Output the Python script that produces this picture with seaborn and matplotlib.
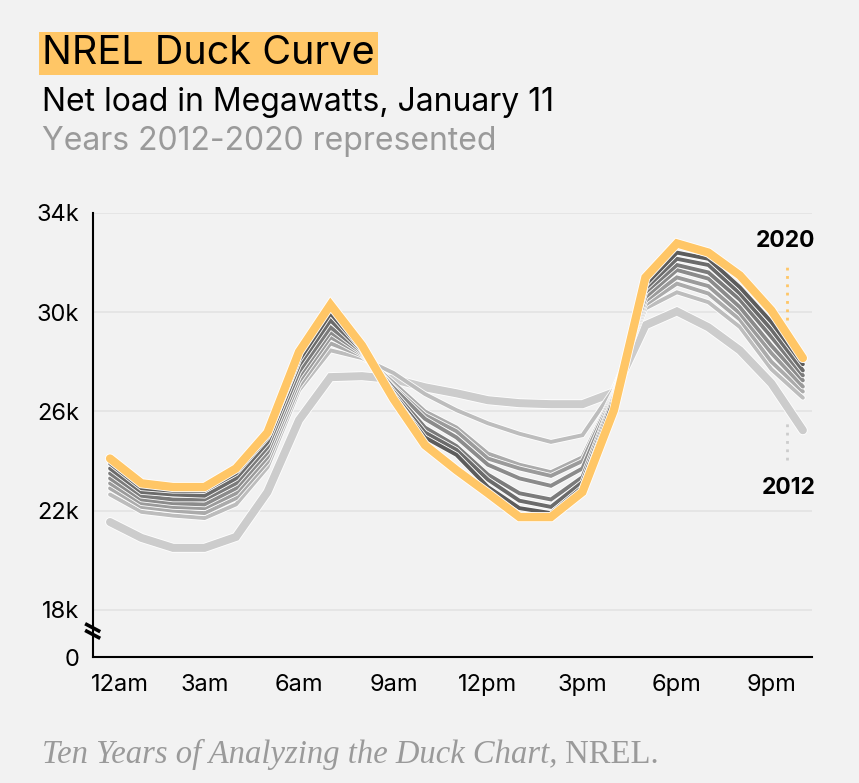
import numpy as np
import matplotlib.pyplot as plt
import matplotlib.patheffects as pe
import matplotlib.transforms as mtransforms
import seaborn as sns
import pandas as pd

# hours of the day (0 = 12am)
hours = list(range(23))
xticks = [0, 3, 6, 9, 12, 15, 18, 21]
xtickslabel = ['12am', '3am', '6am', '9am', '12pm', '3pm', '6pm', '9pm']

# net load, thousands of MW
y2012 = [21.54, 20.9, 20.5, 20.5, 20.94, 22.75, 25.65, 27.38, 27.42, 27.3, 26.97, 26.73,
         26.45, 26.33, 26.29, 26.29, 26.77, 29.47, 30.03, 29.39, 28.46, 27.13, 25.24]
y2013 = [22.65, 21.95, 21.8, 21.7, 22.25, 23.75, 26.85, 28.46, 28.15, 27.55, 26.7, 26.05,
         25.52, 25.1, 24.77, 25.04, 26.9, 30.15, 30.8, 30.4, 29.4, 27.7, 26.55]
y2014 = [22.9, 22.15, 22.0, 21.9, 22.5, 23.95, 27.0, 28.74, 28.25, 27.15, 26.0, 25.35,
         24.3, 23.85, 23.55, 24.15, 26.8, 30.3, 31.15, 30.75, 29.7, 28.0, 26.8]
y2015 = [23.1, 22.3, 22.15, 22.1, 22.7, 24.15, 27.2, 28.99, 28.3, 27.0, 25.85, 25.2,
         24.1, 23.7, 23.4, 24.0, 26.75, 30.45, 31.4, 31.05, 29.95, 28.35, 27.0]
y2016 = [23.3, 22.45, 22.3, 22.25, 22.9, 24.35, 27.4, 29.19, 28.35, 26.95, 25.7, 24.95,
         23.85, 23.3, 23.0, 23.7, 26.7, 30.6, 31.7, 31.35, 30.2, 28.65, 27.25]
y2017 = [23.5, 22.6, 22.45, 22.45, 23.1, 24.55, 27.6, 29.39, 28.4, 26.8, 25.35, 24.6,
         23.45, 22.7, 22.45, 23.35, 26.65, 30.8, 31.9, 31.6, 30.5, 29.0, 27.45]
y2018 = [23.7, 22.75, 22.65, 22.6, 23.3, 24.75, 27.85, 29.67, 28.45, 26.7, 25.15, 24.45,
         23.25, 22.4, 22.15, 23.15, 26.6, 30.95, 32.15, 31.9, 30.75, 29.3, 27.65]
y2019 = [23.9, 22.9, 22.8, 22.8, 23.5, 24.95, 28.05, 29.95, 28.5, 26.6, 24.95, 24.25,
         22.95, 22.1, 21.9, 22.95, 26.5, 31.1, 32.4, 32.15, 31.0, 29.6, 27.9]
y2020 = [24.1, 23.1, 22.95, 22.95, 23.7, 25.15, 28.4, 30.3, 28.66, 26.5, 24.64, 23.63,
         22.7, 21.74, 21.74, 22.75, 26.05, 31.4, 32.77, 32.4, 31.48, 30.07, 28.15]

years = [2012, 2013, 2014, 2015, 2016, 2017, 2018, 2019, 2020]
series = [y2012, y2013, y2014, y2015, y2016, y2017, y2018, y2019, y2020]
colors = ['#cccccc', '#bdbdbd', '#ababab', '#9b9b9b', '#8b8b8b', '#7b7b7b', '#6b6b6b', '#5c5c5c', '#ffc666']
widths = [5.8, 2.8, 2.8, 2.8, 2.8, 2.8, 2.8, 2.8, 6.0]

bg = '#f2f2f2'
sns.set_style('white')
plt.rcParams['font.family'] = ['Inter', 'DejaVu Sans']

fig = plt.figure(figsize=(8.59, 7.83), dpi=100, facecolor=bg)
ax = fig.add_axes([0.1083, 0.1609, 0.8370, 0.5672])
ax.set_facecolor(bg)

ybottom = 16.1
for yy in [18, 22, 26, 30, 34]:
    ax.axhline(yy, color='#e3e3e3', lw=1.2, zorder=0)

for i in range(len(years)):
    df = pd.DataFrame({'hour': hours, 'load': series[i]})
    sns.lineplot(data=df, x='hour', y='load', color=colors[i], linewidth=widths[i],
                 ax=ax, zorder=2 + i, solid_joinstyle='miter',
                 path_effects=[pe.Stroke(linewidth=widths[i] + 1.2, foreground='white'), pe.Normal()])

ax.set_xlim(-0.54, 22.29)
ax.set_ylim(ybottom, 34)
ax.set_xticks(xticks)
ax.set_xticklabels(xtickslabel)
ax.set_yticks([ybottom, 18, 22, 26, 30, 34])
ax.set_yticklabels(['0', '18k', '22k', '26k', '30k', '34k'])
ax.tick_params(length=0, labelsize=17, colors='black')
ax.tick_params(axis='x', pad=12)
ax.tick_params(axis='y', pad=10)
# nudge the first x label off the axis corner
lab0 = ax.get_xticklabels()[0]
lab0.set_transform(lab0.get_transform() + mtransforms.ScaledTranslation(0.1, 0, fig.dpi_scale_trans))
ax.set_xlabel('')
ax.set_ylabel('')
for s in ['top', 'right']:
    ax.spines[s].set_visible(False)
for s in ['left', 'bottom']:
    ax.spines[s].set_color('black')
    ax.spines[s].set_linewidth(1.5)

# axis break marks
ax.plot([-0.011, 0.010], [0.075, 0.057], color='black', lw=2.6, clip_on=False, zorder=10,
        transform=ax.transAxes, solid_capstyle='butt')
ax.plot([-0.011, 0.010], [0.060, 0.042], color='black', lw=2.6, clip_on=False, zorder=10,
        transform=ax.transAxes, solid_capstyle='butt')

# end labels
ax.plot([21.5, 21.5], [29.7, 31.9], color='#ffc666', lw=2, ls=(0, (1, 2)), zorder=1)
ax.plot([21.5, 21.5], [24.05, 25.65], color='#cccccc', lw=2, ls=(0, (1, 2)), zorder=1)
ax.text(21.45, 32.85, '2020', ha='center', va='center', fontsize=16.5, fontweight='bold', color='black')
ax.text(21.55, 22.9, '2012', ha='center', va='center', fontsize=16.5, fontweight='bold', color='black')

# titles
fig.text(0.049, 0.932, 'NREL Duck Curve', fontsize=28.5, va='center', ha='left', color='black',
         bbox=dict(boxstyle='square,pad=0.08', facecolor='#ffc666', edgecolor='none'))
fig.text(0.049, 0.869, 'Net load in Megawatts, January 11', fontsize=23, va='center', ha='left', color='black')
fig.text(0.049, 0.819, 'Years 2012-2020 represented', fontsize=23, va='center', ha='left', color='#9a9a9a')

t1 = fig.text(0.049, 0.036, 'Ten Years of Analyzing the Duck Chart,', fontsize=23.5, va='center', ha='left',
              color='#9a9a9a', family='Liberation Serif', style='italic')
ax.annotate(' NREL.', xy=(1, 0), xycoords=t1, va='bottom', ha='left', fontsize=23.5,
            color='#9a9a9a', family='Liberation Serif', annotation_clip=False)

plt.savefig('out.png', dpi=100, facecolor=bg)
